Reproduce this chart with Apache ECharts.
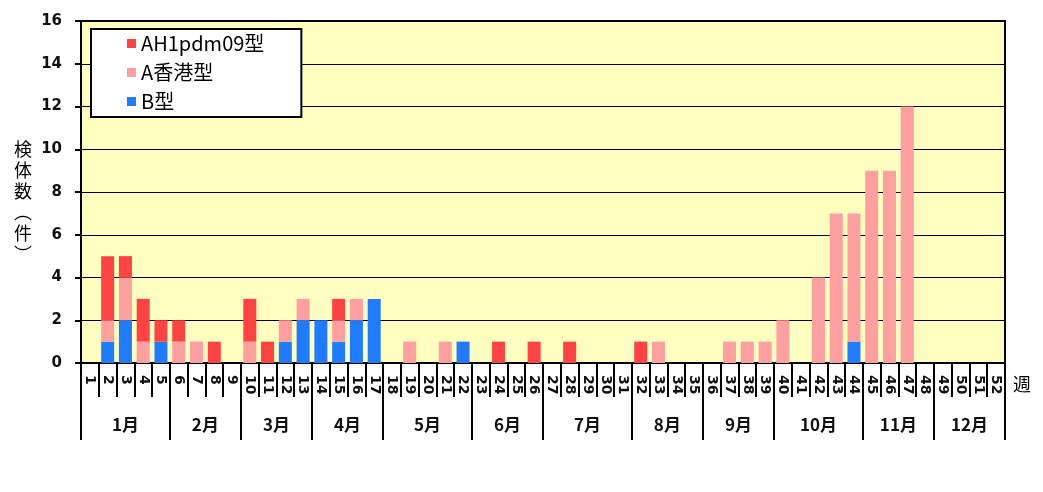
<!DOCTYPE html>
<html><head><meta charset="utf-8">
<script src="https://cdn.jsdelivr.net/npm/echarts@6/dist/echarts.min.js"></script>
<style>html,body{margin:0;padding:0;background:#fff}#c{width:1043px;height:492px}</style>
</head><body><div id="c"></div>
<script>
var weeks = ['1','2','3','4','5','6','7','8','9','10','11','12','13','14','15','16','17','18','19','20','21','22','23','24','25','26','27','28','29','30','31','32','33','34','35','36','37','38','39','40','41','42','43','44','45','46','47','48','49','50','51','52'];
var ah1 = [0,3,1,2,1,1,0,1,0,2, 1,0,0,0,1,0,0,0,0,0, 0,0,0,1,0,1,0,1,0,0, 0,1,0,0,0,0,0,0,0,0, 0,0,0,0,0,0,0,0,0,0, 0,0];
var hk  = [0,1,2,1,0,1,1,0,0,1, 0,1,1,0,1,1,0,0,1,0, 1,0,0,0,0,0,0,0,0,0, 0,0,1,0,0,0,1,1,1,2, 0,4,7,6,9,9,12,0,0,0, 0,0];
var bt  = [0,1,2,0,1,0,0,0,0,0, 0,1,2,2,1,2,3,0,0,0, 0,1,0,0,0,0,0,0,0,0, 0,0,0,0,0,0,0,0,0,0, 0,0,0,1,0,0,0,0,0,0, 0,0];
var months = ['1月','2月','3月','4月','5月','6月','7月','8月','9月','10月','11月','12月'];
var monthWeeks = [5,4,4,4,5,4,5,4,4,5,4,4];
var seriesNames = ['AH1pdm09型','A香港型','B型'];

// half-week slots for month axis
var slots = [];
for (var i = 0; i <= 104; i++) slots.push('');
var boundary = {0: true};
var pos = 0;
monthWeeks.forEach(function (w, k) {
  slots[pos * 2 + w] = months[k];
  pos += w;
  boundary[pos * 2] = true;
});

var chart = echarts.init(document.getElementById('c'));
var axisFont = 'DejaVu Sans';
chart.setOption({
  animation: false,
  title: {
    text: '検\n体\n数\n︵\n件\n︶',
    left: 9, top: 134,
    textStyle: {fontFamily: 'Noto Sans CJK JP', fontSize: 18, fontWeight: 'normal', lineHeight: 21, color: '#000'}
  },
  legend: {
    data: seriesNames,
    orient: 'vertical',
    left: 91, top: 29,
    backgroundColor: '#fff',
    borderColor: '#000',
    borderWidth: 2,
    padding: [4, 37, 5, 36],
    itemWidth: 9, itemHeight: 9, itemGap: 8,
    icon: 'rect',
    textStyle: {fontFamily: 'Noto Sans CJK JP', fontSize: 20, color: '#000', lineHeight: 21, padding: [0,0,0,0]}
  },
  grid: {
    left: 81, right: 38, top: 21, bottom: 129,
    show: true, backgroundColor: '#FFFFC0', borderColor: '#000', borderWidth: 2
  },
  xAxis: [{
    type: 'category',
    data: weeks,
    name: '週',
    nameLocation: 'end',
    nameGap: 8,
    nameTextStyle: {fontFamily: 'Noto Sans CJK JP', fontSize: 18, color: '#000', verticalAlign: 'top', padding: [12,0,0,0]},
    axisLine: {lineStyle: {color: '#000', width: 2}},
    axisTick: {show: true, interval: 0, length: 34, lineStyle: {color: '#000', width: 2}},
    axisLabel: {interval: 0, rotate: -90, margin: 12, fontFamily: axisFont, fontWeight: 'bold', fontSize: 14, color: '#111'}
  }, {
    type: 'category',
    data: slots,
    boundaryGap: false,
    position: 'bottom',
    axisLine: {show: false},
    axisTick: {show: true, length: 77, interval: function (idx) { return !!boundary[idx]; }, lineStyle: {color: '#000', width: 2}},
    axisLabel: {interval: 0, margin: 53, fontFamily: 'Noto Sans CJK JP', fontWeight: 'bold', fontSize: 17, color: '#111'}
  }],
  yAxis: {
    type: 'value',
    min: 0, max: 16, interval: 2,
    axisLine: {show: true, lineStyle: {color: '#000', width: 2}},
    axisTick: {show: true, length: 6, lineStyle: {color: '#000', width: 2}},
    axisLabel: {margin: 19, fontFamily: axisFont, fontWeight: 'bold', fontSize: 15, color: '#111'},
    splitLine: {lineStyle: {color: '#000', width: 1}}
  },
  series: [
    {name: 'B型', type: 'bar', stack: 'a', data: bt, barWidth: 13, itemStyle: {color: '#1F7BFF'}},
    {name: 'A香港型', type: 'bar', stack: 'a', data: hk, barWidth: 13, itemStyle: {color: '#FF9F9F'}},
    {name: 'AH1pdm09型', type: 'bar', stack: 'a', data: ah1, barWidth: 13, itemStyle: {color: '#FF4242'}}
  ]
});
</script></body></html>
